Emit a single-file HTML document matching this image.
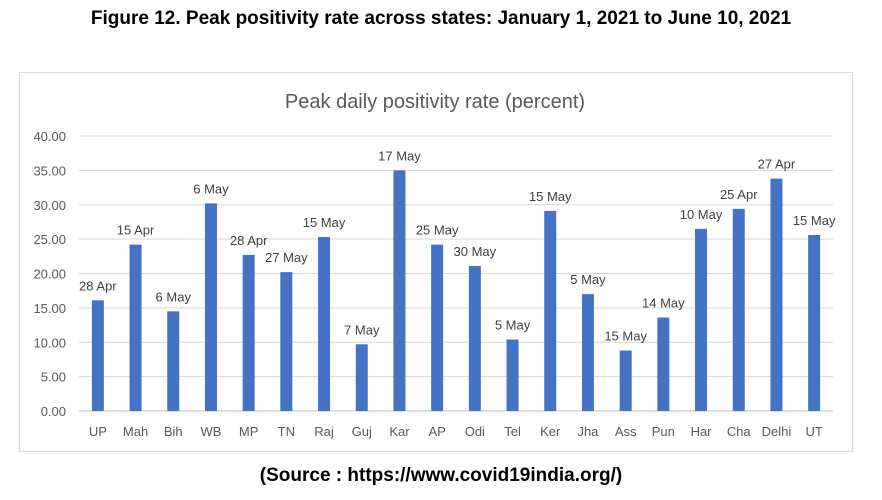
<!DOCTYPE html>
<html><head><meta charset="utf-8"><style>
body{margin:0;background:#fff;width:882px;height:500px;overflow:hidden;font-family:"Liberation Sans",sans-serif}
#wrap{position:relative;width:882px;height:500px}
.t{position:absolute;left:0;width:882px;text-align:center;font-weight:bold;color:#000}
</style></head><body>
<div id="wrap">
<div class="t" style="top:8px;font-size:19px">Figure 12. Peak positivity rate across states: January 1, 2021 to June 10, 2021</div>
<svg id="c" width="882" height="500" style="position:absolute;left:0;top:0"></svg>
<div class="t" style="top:465px;font-size:19px">(Source : https://www.covid19india.org/)</div>
</div>
<script>
const categories=["UP","Mah","Bih","WB","MP","TN","Raj","Guj","Kar","AP","Odi","Tel","Ker","Jha","Ass","Pun","Har","Cha","Delhi","UT"];
const values=[16.1,24.2,14.5,30.2,22.7,20.2,25.3,9.7,35.0,24.2,21.1,10.4,29.1,17.0,8.8,13.6,26.5,29.4,33.8,25.6];
const dates=["28 Apr","15 Apr","6 May","6 May","28 Apr","27 May","15 May","7 May","17 May","25 May","30 May","5 May","15 May","5 May","15 May","14 May","10 May","25 Apr","27 Apr","15 May"];
const ticks=[0,5,10,15,20,25,30,35,40];
const NS="http://www.w3.org/2000/svg";
const svg=document.getElementById('c');
const L=79,R=833,T=136,B=411,ymax=40;
const y=v=>B-(v/ymax)*(B-T);
const step=(R-L)/categories.length;
const x=i=>L+step*(i+0.5);
function mk(t,a){const e=document.createElementNS(NS,t);for(const k in a)e.setAttribute(k,a[k]);svg.appendChild(e);return e;}
const box=mk('rect',{x:19.5,y:72.5,width:833,height:379,fill:'#fff',stroke:'#d9d9d9'});


const ct=mk('text',{x:435,y:108,'text-anchor':'middle','font-size':20,fill:'#595959','font-family':'Liberation Sans, sans-serif'});
ct.textContent='Peak daily positivity rate (percent)';


ticks.forEach(t=>{
 const g=mk('line',{x1:L,x2:R,y1:y(t),y2:y(t),stroke:t===0?'#bfbfbf':'#d9d9d9','stroke-width':1});
 
 
 const lb=mk('text',{x:66,y:y(t)+5,'text-anchor':'end','font-size':13,fill:'#595959'});
 lb.textContent=t.toFixed(2);
 
 
});
categories.forEach((c,i)=>{
 const b=mk('rect',{x:x(i)-6,y:y(values[i]),width:12,height:B-y(values[i]),fill:'#4472c4'});
 
 
 const d=mk('text',{x:x(i),y:y(values[i])-10,'text-anchor':'middle','font-size':13,fill:'#404040'});
 d.textContent=dates[i];
 
 
 const l=mk('text',{x:x(i),y:436,'text-anchor':'middle','font-size':13,fill:'#595959'});
 l.textContent=c;
 
 
});
</script>
</body></html>
